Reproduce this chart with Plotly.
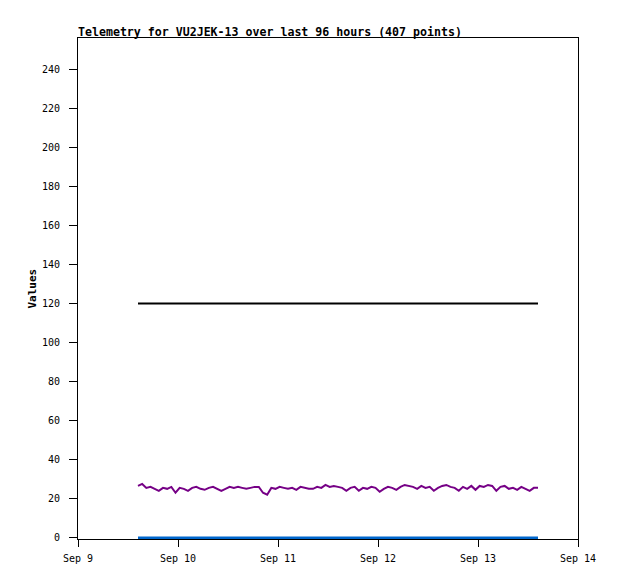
import pandas as pd
import plotly.graph_objects as go

# ---- data ----
start_time = "2024-09-09 14:24"
end_time = "2024-09-13 14:24"
purple_values = [
    26.5, 27.5, 25.5, 26, 25, 24, 25.5, 25, 26, 23, 25.5, 25, 24, 25.5, 26, 25, 24.5, 25.5, 26, 25, 24, 25, 26, 25.5, 26,
    25.5, 25, 25.5, 26, 26, 23, 22, 25.5, 25, 26, 25.5, 25, 25.5, 24.5, 26, 25.5, 25, 25, 26, 25.5, 27, 26, 26.5, 26,
    25.5, 24, 25.5, 26, 24, 25.5, 25, 26, 25.5, 23.5, 25, 26, 25.5, 24.5, 26, 27, 26.5, 26, 25, 26.5, 25.5, 26, 24, 25.5,
    26.5, 27, 26, 25.5, 24, 26, 25, 26.5, 24.5, 26.5, 26, 27, 26.5, 24, 26, 26.5, 25, 25.5, 24.5, 26, 25, 24, 25.5, 25.5,
]
black_value = 120
blue_value = 0
x_range = ["2024-09-09", "2024-09-14"]
y_range = [-0.7, 256]
y_tick_values = list(range(0, 241, 20))
title_text = "Telemetry for VU2JEK-13 over last 96 hours (407 points)"
y_title = "Values"

times = pd.date_range(start_time, end_time, periods=len(purple_values))
black_values = [black_value] * len(times)
blue_values = [blue_value] * len(times)

FONT = "DejaVu Sans Mono"

fig = go.Figure()
fig.add_trace(go.Scatter(x=times, y=purple_values, mode="lines",
                         line=dict(color="#760086", width=2), showlegend=False))
fig.add_trace(go.Scatter(x=times, y=black_values, mode="lines",
                         line=dict(color="#000000", width=2), showlegend=False))
fig.add_trace(go.Scatter(x=times, y=blue_values, mode="lines",
                         line=dict(color="#0066cc", width=2.5), showlegend=False))

fig.update_layout(
    width=610, height=571,
    margin=dict(l=70, r=40, t=30, b=40, pad=0),
    paper_bgcolor="white", plot_bgcolor="white",
    font=dict(family=FONT, size=10, color="black"),
    showlegend=False,
    title=dict(text="<b>" + title_text + "</b>", x=0, xref="paper", xanchor="left",
               y=1, yref="paper", yanchor="bottom", pad=dict(b=2),
               font=dict(family=FONT, size=11.6, color="black")),
    xaxis=dict(range=x_range, type="date", tickformat="%b %-d", dtick=86400000,
               tick0="2024-09-09", ticks="outside", ticklen=7, tickcolor="black",
               showline=True, linecolor="black", linewidth=1, mirror=True,
               showgrid=False, zeroline=False, tickfont=dict(size=10),
               layer="below traces", ticklabelstandoff=3),
    yaxis=dict(range=y_range, tickvals=y_tick_values, ticks="outside", ticklen=8,
               tickcolor="black", showline=True, linecolor="black", linewidth=1,
               mirror=True, showgrid=False, zeroline=False, tickfont=dict(size=10),
               layer="below traces", ticklabelstandoff=7),
)

fig.add_annotation(text="<b>" + y_title + "</b>", xref="paper", yref="paper",
                   x=0, y=0.5, xshift=-46, xanchor="center", yanchor="middle",
                   textangle=-90, showarrow=False,
                   font=dict(family=FONT, size=11, color="black"))

fig.write_html("out.html")
